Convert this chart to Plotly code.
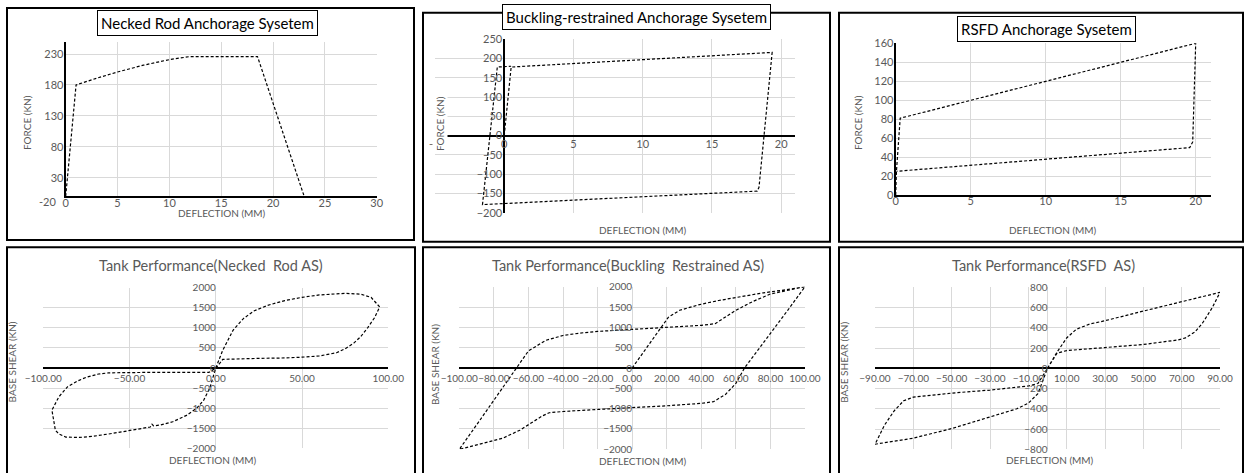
import plotly.graph_objects as go

W, H = 1244, 473
FONT = "Lato"
GRID = "#d9d9d9"
TXT = "#595959"

# ---------------- data ----------------
# Panel 1: Necked Rod Anchorage System
nr_x = [0, 1, 3, 5, 7.5, 10, 12, 18.5, 23]
nr_y = [0, 180, 191, 201, 212, 221, 226, 226, 0]

# Panel 2: Buckling-restrained Anchorage System
br_x = [0, 0.5, 19.35, 18.4, 18.27, -1.57, -0.5, 0.5]
br_y = [0, 178, 216, -134, -144, -179, 178, 180]

# Panel 3: RSFD Anchorage System
rs_x = [0, 0.05, 0.3, 20, 19.8, 19.6, 0.05]
rs_y = [0, 25, 81, 160, 56, 50, 25]

# Panel 4: Tank Performance (Necked Rod AS)
t1_x = [0, 4, 10, 16, 22, 30, 40, 50, 60, 75, 84, 90, 95,
        92, 88, 84, 80, 75, 70, 60, 50, 40, 25, 10, 4, 2,
        0, -3.5, -7, -11, -17, -25, -32, -36, -37, -38, -48, -60, -71, -79, -87, -91, -93, -95,
        -91, -86, -80, -75, -68, -62, -40, -20, -4, 0]
t1_y = [0, 440, 940, 1230, 1420, 1560, 1680, 1760, 1820, 1860, 1840, 1760, 1520,
        1250, 1000, 780, 620, 480, 380, 300, 270, 250, 240, 230, 215, 100,
        0, -500, -800, -1000, -1180, -1340, -1420, -1440, -1400, -1470, -1550, -1630, -1700, -1730, -1720, -1640, -1550, -1050,
        -720, -470, -320, -230, -150, -120, -110, -110, -110, 0]

# Panel 5: Tank Performance (Buckling Restrained AS)
t2_x = [0, 16, 21, 27.5, 39, 50, 62, 76, 89, 100,
        90, 80, 72, 65, 60, 54, 47, 40, 20, 0, -20, -40, -48, -52, -58, -65, -75, -85, -100,
        -90, -80, -67, -60, -50, -40, -30, -20, 0, 20, 40, 48, 55, 60, 70, 80, 100]
t2_y = [0, 930, 1250, 1420, 1560, 1660, 1750, 1850, 1925, 2000,
        1420, 850, 400, 0, -380, -650, -830, -870, -930, -970, -1020, -1070, -1100, -1180, -1350, -1530, -1730, -1840, -2000,
        -1400, -790, 0, 420, 680, 800, 860, 900, 950, 1000, 1050, 1090, 1270, 1420, 1640, 1820, 2000]

# Panel 6: Tank Performance (RSFD AS)
t3_x = [0, 5, 10, 15, 22, 30, 50, 70, 90,
        86, 81, 77, 72, 68, 50, 30, 10, 5, 0, -5, -10, -16, -30, -50, -70, -90,
        -85, -80, -75, -70, -50, -30, -10, -5, 0]
t3_y = [0, 160, 300, 385, 437, 470, 565, 660, 750,
        600, 450, 360, 300, 280, 235, 205, 175, 150, 0, -250, -345, -400, -480, -595, -690, -750,
        -560, -420, -320, -285, -245, -215, -175, -150, 0]

# ---------------- layout helpers ----------------
def xd(l, r):
    return [l / W, r / W]

def yd(t, b):
    return [1 - b / H, 1 - t / H]

def px(x):
    return x / W

def py(y):
    return 1 - y / H

def zero_pos(dom, rng):
    return dom[0] + (0 - rng[0]) / (rng[1] - rng[0]) * (dom[1] - dom[0])

fig = go.Figure()
line = dict(color="black", width=1.2, dash="3px,2px")

panels = [
    dict(x=nr_x, y=nr_y, xdom=xd(65.7, 376.7), ydom=yd(41.7, 196.2),
         xr=[0, 30], yr=[0, 250], xt=[0, 5, 10, 15, 20, 25, 30], yt=[30, 80, 130, 180, 230],
         free=False, fmt="", fs=11, xso=-4, yso=-2),
    dict(x=br_x, y=br_y, xdom=xd(435, 795), ydom=yd(39.3, 212.7),
         xr=[-5, 21], yr=[-200, 250], xt=[-5, 0, 5, 10, 15, 20], yt=list(range(-200, 251, 50)),
         free=True, fmt="", fs=11, vzero="black", xso=0, yso=2),
    dict(x=rs_x, y=rs_y, xdom=xd(895.7, 1210.7), ydom=yd(43.3, 195),
         xr=[0, 21], yr=[0, 160], xt=[0, 5, 10, 15, 20], yt=list(range(0, 161, 20)),
         free=False, fmt="", fs=11, xso=-5, yso=-2),
    dict(x=t1_x, y=t1_y, xdom=xd(43.3, 388.3), ydom=yd(287.7, 448.3),
         xr=[-100, 100], yr=[-2000, 2000], xt=[-100, -50, 0, 50, 100], yt=list(range(-2000, 2001, 500)),
         free=True, fmt=".2f", fs=10, vzero=GRID, xso=3, yso=0),
    dict(x=t2_x, y=t2_y, xdom=xd(459.3, 805), ydom=yd(286.7, 449.3),
         xr=[-100, 100], yr=[-2000, 2000], xt=list(range(-100, 101, 20)), yt=list(range(-2000, 2001, 500)),
         free=True, fmt=".2f", fs=10, vzero=GRID, xso=3, yso=0),
    dict(x=t3_x, y=t3_y, xdom=xd(875, 1220), ydom=yd(287.3, 449.3),
         xr=[-90, 90], yr=[-800, 800], xt=list(range(-90, 91, 20)), yt=list(range(-800, 801, 200)),
         free=True, fmt=".2f", fs=10, vzero=GRID, xso=3, yso=0),
]

for i, p in enumerate(panels, start=1):
    xa = "x" if i == 1 else f"x{i}"
    ya = "y" if i == 1 else f"y{i}"
    fig.add_trace(go.Scatter(x=p["x"], y=p["y"], mode="lines", line=line,
                             xaxis=xa, yaxis=ya, showlegend=False, hoverinfo="skip"))
    xkey = "xaxis" if i == 1 else f"xaxis{i}"
    ykey = "yaxis" if i == 1 else f"yaxis{i}"
    xax = dict(domain=p["xdom"], range=p["xr"], tickmode="array", tickvals=p["xt"],
               tickformat=p["fmt"], showgrid=True, gridcolor=GRID, gridwidth=1,
               ticks="", tickangle=0, automargin=False, ticklabelstandoff=p["xso"],
               tickfont=dict(family=FONT, size=p["fs"], color=TXT), fixedrange=True)
    yax = dict(domain=p["ydom"], range=p["yr"], tickmode="array", tickvals=p["yt"],
               showgrid=True, gridcolor=GRID, gridwidth=1,
               ticks="", tickangle=0, automargin=False, ticklabelstandoff=p["yso"],
               tickfont=dict(family=FONT, size=p["fs"], color=TXT), fixedrange=True)
    if p["free"]:
        xax.update(anchor="free", position=zero_pos(p["ydom"], p["yr"]), showline=False,
                   zeroline=True, zerolinecolor=p["vzero"], zerolinewidth=2 if p["vzero"] == "black" else 1)
        yax.update(anchor="free", position=zero_pos(p["xdom"], p["xr"]), showline=False,
                   zeroline=True, zerolinecolor="black", zerolinewidth=2)
    else:
        xax.update(anchor=ya, showline=True, linecolor="black", linewidth=2, zeroline=False)
        yax.update(anchor=xa, showline=True, linecolor="black", linewidth=2, zeroline=False)
    fig.update_layout(**{xkey: xax, ykey: yax})

# ---------------- panel borders ----------------
borders = [(7, 8, 414, 240), (423, 12.7, 830, 241.7), (839, 12.7, 1243, 241.7),
           (7, 247.3, 415, 476), (423, 247.3, 830, 476), (839, 247.3, 1243, 476)]
shapes = []
for (l, t, r, b) in borders:
    shapes.append(dict(type="rect", xref="paper", yref="paper",
                       x0=px(l), x1=px(r), y0=py(b), y1=py(t),
                       line=dict(color="black", width=2), fillcolor="rgba(0,0,0,0)", layer="above"))

# ---------------- text ----------------
ann = []

def text(x, y, s, size, color=TXT, angle=0, xanchor="center", **kw):
    ann.append(dict(x=px(x), y=py(y), xref="paper", yref="paper", text=s, showarrow=False,
                    font=dict(family=FONT, size=size, color=color), textangle=angle,
                    xanchor=xanchor, yanchor="middle", **kw))

box = dict(bgcolor="white", bordercolor="black", borderwidth=1, borderpad=3)
text(207.5, 23, "Necked Rod Anchorage Sysetem", 15, color="black", **box)
text(636, 17, "Buckling-restrained Anchorage Sysetem", 15, color="black", **box)
text(1046, 28.7, "RSFD Anchorage Sysetem", 15, color="black", **box)

text(211, 265, "Tank Performance(Necked  Rod AS)", 14.5)
text(628, 265, "Tank Performance(Buckling  Restrained AS)", 14.5)
text(1043, 265, "Tank Performance(RSFD  AS)", 14.5)

# axis titles
text(222, 213, "DEFLECTION (MM)", 10)
text(27, 123, "FORCE (KN)", 10, angle=-90)
text(643, 230, "DEFLECTION (MM)", 10)
text(440, 124, "FORCE (KN)", 10, angle=-90, bgcolor="white")
text(1052.7, 230, "DEFLECTION (MM)", 10)
text(858, 123, "FORCE (KN)", 10, angle=-90)
text(213, 460, "DEFLECTION (MM)", 10)
text(11.7, 361.7, "BASE SHEAR (KN)", 10, angle=-90)
text(643, 460.7, "DEFLECTION (MM)", 10)
text(435, 365, "BASE SHEAR (KN)", 10, angle=-90)
text(1050, 460, "DEFLECTION (MM)", 10)
text(843.3, 362.5, "BASE SHEAR (KN)", 10, angle=-90)

# extra Excel label below the necked-rod force axis
text(58, 201.7, "-20", 11, xanchor="right")

fig.update_layout(width=W, height=H, margin=dict(l=0, r=0, t=0, b=0, autoexpand=False),
                  paper_bgcolor="white", plot_bgcolor="white",
                  shapes=shapes, annotations=ann, showlegend=False)

fig.write_html("out.html", config={"displayModeBar": False, "staticPlot": True},
               post_script="document.body.style.margin='0px';document.body.style.overflow='hidden';")
